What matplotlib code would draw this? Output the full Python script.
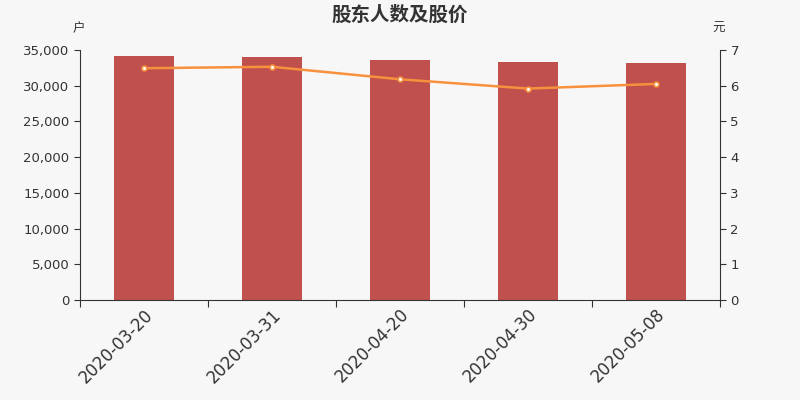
import numpy as np
import matplotlib.pyplot as plt
from matplotlib.ticker import FuncFormatter

plt.rcParams['font.family'] = ['DejaVu Sans', 'Noto Sans CJK SC']

## data ##
dates = ["2020-03-20", "2020-03-31", "2020-04-20", "2020-04-30", "2020-05-08"]
holders = [34200, 33980, 33640, 33320, 33220]  # 股东户数
price = [6.49, 6.53, 6.18, 5.92, 6.05]  # 股价 (元)

bg = "#f7f7f7"
bar_col = "#c0504d"
line_col = "#f7913d"
txt_col = "#333333"

fig = plt.figure(figsize=(8, 4), dpi=100, facecolor=bg)
ax = fig.add_axes([0.1, 0.25, 0.8, 0.625], facecolor=bg)
ax2 = ax.twinx()

x = np.arange(len(dates))
ax.bar(x, holders, width=0.47, color=bar_col, zorder=2)
ax2.plot(x, price, color=line_col, lw=1.8, zorder=3)
ax2.plot(x, price, 'o', ms=3.5, mfc="white", mec=line_col, mew=1.2, zorder=4)

ax.set_xlim(-0.5, len(dates) - 0.5)
ax.set_ylim(0, 35000)
ax2.set_ylim(0, 7)
ax.set_yticks(np.arange(0, 35001, 5000))
ax2.set_yticks(np.arange(0, 8, 1))
ax.yaxis.set_major_formatter(FuncFormatter(lambda v, p: f"{int(v):,}"))

# ticks between categories, labels under each bar
ax.set_xticks(np.arange(-0.5, len(dates), 1.0))
ax.set_xticklabels([])
ax.set_xticks(x, minor=True)
ax.set_xticklabels(dates, minor=True, rotation=45, ha="right", va="top",
                   rotation_mode="anchor", fontsize=12, color=txt_col)
ax.tick_params(axis="x", which="minor", length=0, pad=4)
ax.tick_params(axis="x", which="major", length=5, color=txt_col)
ax.tick_params(axis="y", length=4, labelsize=9.5, colors=txt_col)
ax2.tick_params(axis="y", length=4, labelsize=9.5, colors=txt_col)

for a in (ax, ax2):
    a.spines["top"].set_visible(False)
    for s in ("left", "right", "bottom"):
        a.spines[s].set_color(txt_col)
ax.spines["right"].set_visible(False)
ax2.spines["left"].set_visible(False)
ax2.spines["bottom"].set_visible(False)

fig.text(0.5, 0.963, "股东人数及股价", ha="center", va="center",
         fontsize=14, fontweight="bold", color=txt_col,
         family=['Noto Sans CJK SC', 'DejaVu Sans'])
fig.text(0.098, 0.928, "户", ha="center", va="center", fontsize=9, color=txt_col,
         family=['Noto Sans CJK SC'])
fig.text(0.898, 0.928, "元", ha="center", va="center", fontsize=9, color=txt_col,
         family=['Noto Sans CJK SC'])

fig.savefig("out.png", dpi=100, facecolor=bg)
